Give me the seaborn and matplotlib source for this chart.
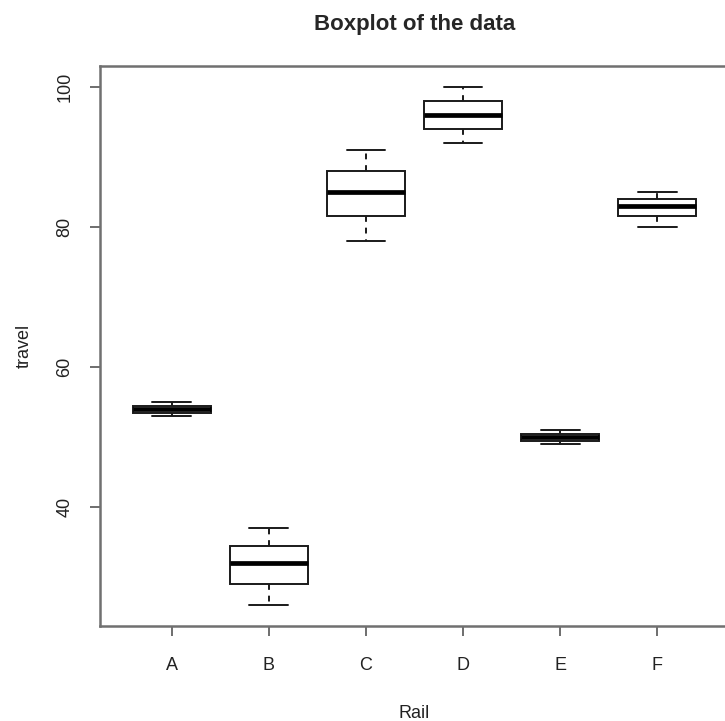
import numpy as np
import pandas as pd
import seaborn as sns
import matplotlib
matplotlib.use("Agg")
import matplotlib.pyplot as plt

# Rail data (nlme), three travel times per rail
rails = ["A", "B", "C", "D", "E", "F"]
travel_a = [55, 53, 54]
travel_b = [26, 37, 32]
travel_c = [78, 91, 85]
travel_d = [92, 100, 96]
travel_e = [49, 51, 50]
travel_f = [80, 85, 83]
y_ticks = [40, 60, 80, 100]

rail = pd.DataFrame({
    "Rail": np.repeat(rails, 3),
    "travel": travel_a + travel_b + travel_c + travel_d + travel_e + travel_f,
})

sns.set_style("white")
plt.rcParams["font.family"] = ["Liberation Sans", "DejaVu Sans"]

W, H = 725, 721
fig = plt.figure(figsize=(W / 100, H / 100), dpi=100)
# plot region in pixels: x 100..729 (right edge falls just outside), y 66..626
ax = fig.add_axes([100 / W, (H - 626) / H, 629 / W, 560 / H])

line_col = "#1a1a1a"
sns.boxplot(data=rail, x="Rail", y="travel", order=rails, ax=ax,
            color="white", width=0.8, linewidth=1.4, linecolor=line_col,
            whis=1.5, fliersize=4,
            whiskerprops=dict(linestyle=(0, (3, 3)), color=line_col),
            medianprops=dict(linewidth=3.4, color="black"),
            capprops=dict(color=line_col))

lo, hi = 26, 100
pad = (hi - lo) * 0.04
ax.set_ylim(lo - pad, hi + pad)
ax.set_xlim(-0.74, 5.74)
ax.set_yticks(y_ticks)
ax.set_yticklabels([str(v) for v in y_ticks], rotation=90, va="center")

for side in ["left", "bottom", "top", "right"]:
    ax.spines[side].set_color("#707070")
    ax.spines[side].set_linewidth(1.8)

ax.tick_params(axis="both", which="both", bottom=True, left=True,
               direction="out", length=7, width=1.2, color="#555555",
               labelsize=13, labelcolor="#222222")
ax.tick_params(axis="x", pad=15)
ax.tick_params(axis="y", pad=12)

ax.set_xlabel("Rail", fontsize=13, color="#222222", labelpad=23)
ax.set_ylabel("travel", fontsize=13, color="#222222", labelpad=17)
ax.set_title("Boxplot of the data", fontsize=16, fontweight="bold", pad=26)

fig.savefig("out.png", dpi=100)
